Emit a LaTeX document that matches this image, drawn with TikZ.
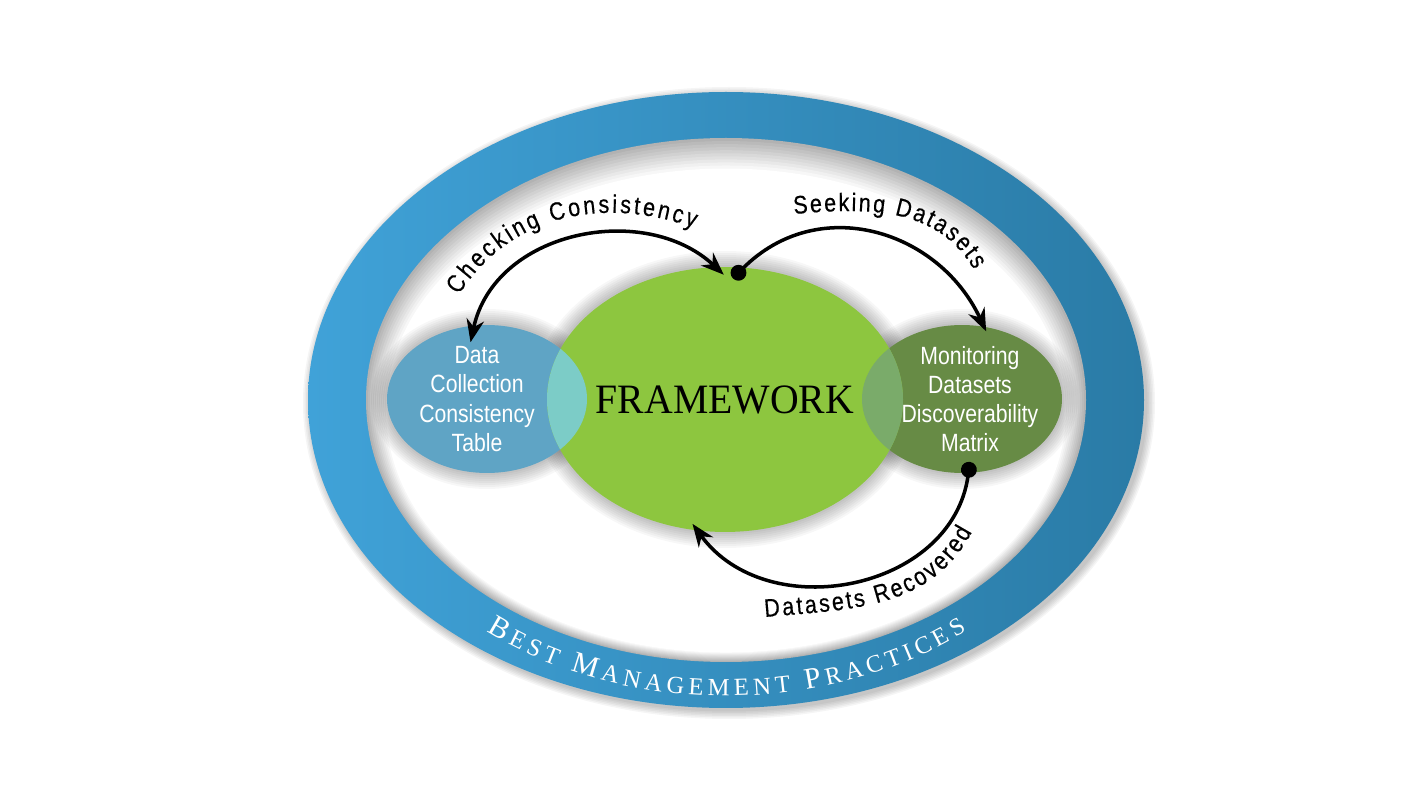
\documentclass[tikz,border=0pt]{standalone}
\usepackage{fontspec}
\setmainfont{Liberation Serif}
\newfontfamily\condfont[FakeStretch=0.85]{Liberation Sans}
\newfontfamily\arclabelfamily[FakeStretch=0.85, FakeBold=0.4]{Liberation Sans}
\newfontfamily\titlefont[FakeStretch=0.95]{Liberation Serif}
\usetikzlibrary{positioning, shapes.geometric, arrows.meta, decorations.text}

\definecolor{ringlight}{HTML}{40A2D8}
\definecolor{ringdark}{HTML}{2A7BA6}
\definecolor{framegreen}{HTML}{8DC63F}
\definecolor{tableblue}{HTML}{5FA4C5}
\definecolor{tealmix}{HTML}{7CCCC7}
\definecolor{matrixgreen}{HTML}{678B45}
\definecolor{olivemix}{HTML}{7AAB6A}

\newcommand\bmpbig{\color{white}\fontsize{17}{18}\selectfont}
\newcommand\bmpsmall{\color{white}\fontsize{14}{15}\selectfont}
\newcommand\arcfont{\arclabelfamily\fontsize{14.4}{16}\selectfont}

\begin{document}
\begin{tikzpicture}[x=0.02cm, y=0.02cm,
        bubble/.style={ellipse, inner sep=0pt, outer sep=0pt},
        bubbletext/.style={font=\condfont\fontsize{14.2}{16.6}\selectfont, text=white, align=center},
        twoway/.style={line width=2pt, {Stealth[length=13pt, width=10pt]}-{Stealth[length=13pt, width=10pt]}},
        dotflow/.style={line width=2pt, {Circle[length=9pt]}-{Stealth[length=13pt, width=10pt]}},
        arclabel/.style={decorate, decoration={text along path, text align={fit to path}, text={|\arcfont|#1}}}
    ]
        \fill[white] (0,0) rectangle (1428,802);
        \useasboundingbox (0,0) rectangle (1428,802);

        % Centres
        \coordinate (ring_c) at (726,402);
        \coordinate (frame_c) at (725,402.5);
        \coordinate (table_c) at (487,403);
        \coordinate (matrix_c) at (962,403);

        % Outer ring with its shadow
        \foreach \k in {1,...,6} {
            \fill[black, opacity=0.04] ([shift={(3,-3)}]ring_c) ellipse [x radius=417+1.5*\k, y radius=307+1.5*\k];
        }
        \shade[left color=ringlight, right color=ringdark] (ring_c) ellipse [x radius=418, y radius=308];
        \foreach \k in {0,...,10} {
            \pgfmathsetmacro{\tone}{30-3*\k}
            \fill[black!\tone] ([yshift=-0.6*\k]ring_c) ellipse [x radius=360-2*\k, y radius=262-2*\k];
        }

        % Soft shadows of the bubbles
        \foreach \k in {1,...,8} {
            \fill[black, opacity=0.03] (frame_c) ellipse [x radius=178+2*\k, y radius=132.5+2*\k];
            \fill[black, opacity=0.03] (table_c) ellipse [x radius=100+2*\k, y radius=74+2*\k];
            \fill[black, opacity=0.03] (matrix_c) ellipse [x radius=100+2*\k, y radius=74+2*\k];
        }

        % Bubbles
        \node[bubble, fill=tableblue, minimum width=4cm, minimum height=2.96cm] (data_table) at (table_c) {};
        \node[bubble, fill=matrixgreen, minimum width=4cm, minimum height=2.96cm] (disc_matrix) at (matrix_c) {};
        \node[bubble, fill=framegreen, minimum width=7.12cm, minimum height=5.3cm] (frame) at (frame_c) {};

        % Overlaps
        \begin{scope}
            \clip (table_c) ellipse [x radius=100, y radius=74];
            \fill[tealmix] (frame_c) ellipse [x radius=178, y radius=132.5];
        \end{scope}
        \begin{scope}
            \clip (matrix_c) ellipse [x radius=100, y radius=74];
            \fill[olivemix] (frame_c) ellipse [x radius=178, y radius=132.5];
        \end{scope}

        % Texts
        \node[bubbletext] (table_txt) at ([xshift=-0.2cm]data_table.center) {Data\\Collection\\Consistency\\Table};
        \node[bubbletext] (matrix_txt) at ([xshift=0.16cm]disc_matrix.center) {Monitoring\\Datasets\\Discoverability\\Matrix};
        \node[font=\titlefont\fontsize{23.8}{26}\selectfont] (frame_txt) at (frame.center) {FRAMEWORK};

        % Connections
        \draw[twoway, shorten <=-0.34cm, shorten >=-0.22cm] (data_table.100) to[out=78, in=137] (frame.94);
        \draw[dotflow, shorten <=-0.3cm, shorten >=-0.1cm] (frame.82) to[out=45, in=115, looseness=1.1] (disc_matrix.73);
        \draw[dotflow, shorten <=-0.22cm, shorten >=-0.16cm] (disc_matrix.-85) to[out=-98, in=-54, looseness=1.1] (frame.258);

        % Labels on the arcs
        \path[arclabel={Checking Consistency}] (459,507) to[out=58, in=160] (694,574);
        \path[arclabel={Seeking Datasets}] (794,588) to[out=5, in=120] (974,532);
        \path[arclabel={Datasets Recovered}] (765,185) to[out=5, in=-118] (972,270);

        % Ring label
        \path[decorate, decoration={text along path, text align={fit to path},
            text={|\bmpbig|B|\bmpsmall|EST |\bmpbig|M|\bmpsmall|ANAGEMENT |\bmpbig|P|\bmpsmall|RACTICES}}]
            (ring_c) ++(231.5:385 and 296) arc[start angle=231.5, end angle=308.7, x radius=385, y radius=296];
    \end{tikzpicture}
\end{document}
